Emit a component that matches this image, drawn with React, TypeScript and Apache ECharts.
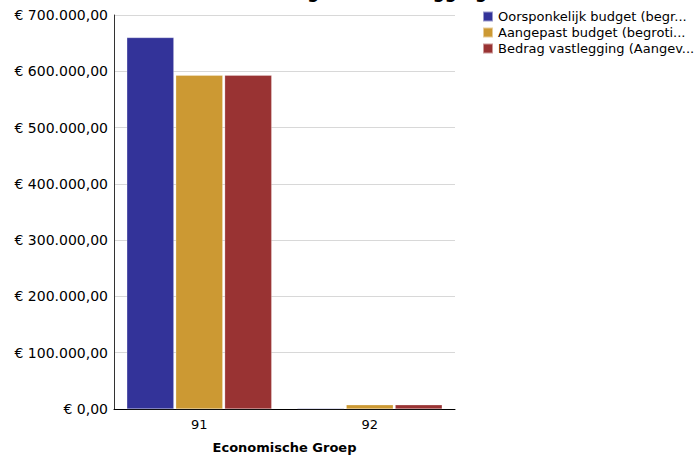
import React, { useEffect, useRef } from "react";
import * as echarts from "echarts";

const categories = ["91", "92"];
const seriesNames = [
  "Oorsponkelijk budget (begroting)",
  "Aangepast budget (begroting)",
  "Bedrag vastlegging (Aangevraagd)",
];
const oorspronkelijk = [660000, 1500];
const aangepast = [593000, 7500];
const vastlegging = [593000, 7500];
const colors = ["#333399", "#CC9933", "#993333"];
const yTicks = [0, 100000, 200000, 300000, 400000, 500000, 600000, 700000];
const legendWidths = [196, 196, 203];

const fmt = (v: number) => {
  const s = Math.round(v).toString().replace(/\B(?=(\d{3})+(?!\d))/g, ".");
  return "€ " + s + ",00";
};

const FONT = "DejaVu Sans";

export default function App() {
  const ref = useRef<HTMLDivElement>(null);
  useEffect(() => {
    if (!ref.current) return;
    const chart = echarts.init(ref.current, null, { renderer: "svg" });
    const data = [oorspronkelijk, aangepast, vastlegging];
    chart.setOption({
      animation: false,
      backgroundColor: "#ffffff",
      textStyle: { fontFamily: FONT },
      graphic: [
        {
          type: "text",
          left: 270,
          top: -17,
          style: {
            text: "Budget en vastlegging",
            font: `bold 17px '${FONT}'`,
            fill: "#000",
          },
        },
      ],
      legend: {
        orient: "vertical",
        left: 477,
        top: 5,
        itemWidth: 10,
        itemHeight: 10,
        itemGap: 3,
        icon: "rect",
        textStyle: {
          fontFamily: FONT,
          fontSize: 13,
          color: "#000",
          width: 196,
          overflow: "truncate",
          ellipsis: "...",
        },
        data: seriesNames.map((name, i) => ({
          name,
          textStyle: { width: legendWidths[i], overflow: "truncate", ellipsis: "..." },
        })),
      },
      grid: {
        left: 114,
        right: 243,
        top: 15,
        bottom: 47,
        containLabel: false,
        outerBoundsMode: "none",
      },
      xAxis: {
        type: "category",
        data: categories,
        name: "Economische Groep",
        nameLocation: "middle",
        nameGap: 32,
        nameTextStyle: { fontFamily: FONT, fontSize: 13, fontWeight: "bold", color: "#000" },
        axisLine: { lineStyle: { color: "#000", width: 1 } },
        axisTick: { show: false },
        axisLabel: { fontFamily: FONT, fontSize: 13, color: "#000", margin: 9 },
      },
      yAxis: {
        type: "value",
        min: 0,
        max: 700000,
        interval: 100000,
        axisLine: { show: true, lineStyle: { color: "#333", width: 1 } },
        axisTick: { show: false },
        splitLine: { lineStyle: { color: "#d8d8d8", width: 1 } },
        axisLabel: {
          fontFamily: FONT,
          fontSize: 14,
          color: "#000",
          margin: 6,
          formatter: (v: number) => (yTicks.includes(v) ? fmt(v) : ""),
        },
      },
      series: seriesNames.map((name, i) => ({
        name,
        type: "bar",
        data: data[i],
        barGap: "4%",
        barCategoryGap: "15%",
        itemStyle: { color: colors[i], borderColor: "rgba(255,255,255,0.5)", borderWidth: 0.5 },
      })),
    });
    return () => chart.dispose();
  }, []);
  return <div ref={ref} style={{ width: 698, height: 456, position: "absolute", left: 0, top: 0 }} />;
}
